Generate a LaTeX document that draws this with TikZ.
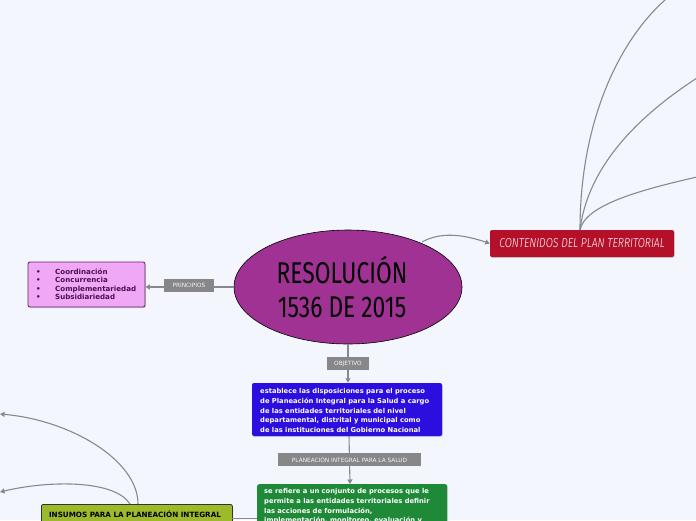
\documentclass[tikz,border=0pt]{standalone}
\usepackage{fontspec}
\setmainfont{DejaVu Sans}
\newfontfamily\handfont{Fira Sans}
\newfontfamily\handfontit{Fira Sans Light Italic}
\usetikzlibrary{arrows.meta,shapes.geometric,shadows}
\definecolor{bg}{RGB}{243,246,253}
\definecolor{conn}{RGB}{135,137,145}
\definecolor{lblgray}{RGB}{135,135,138}
\definecolor{ellfill}{RGB}{159,50,147}
\definecolor{pinkfill}{RGB}{240,168,246}
\definecolor{pinkdraw}{RGB}{100,30,100}
\definecolor{pinktext}{RGB}{75,16,80}
\definecolor{redfill}{RGB}{181,16,42}
\definecolor{bluefill}{RGB}{44,14,222}
\definecolor{greenfill}{RGB}{30,138,56}
\definecolor{olivefill}{RGB}{156,186,42}
\tikzset{
  conn/.style={draw=conn, line width=1.1pt},
  arr/.style={conn, -{Triangle[length=4.5pt,width=5pt]}},
  lbl/.style={fill=lblgray, text=white!92!gray, font=\fontsize{5.8}{6}\selectfont, inner sep=0pt, minimum height=12.5pt},
  topicbox/.style={rounded corners=2pt, inner sep=0pt, drop shadow={shadow xshift=0.8pt, shadow yshift=-1.2pt, opacity=0.3}},
  bodytext/.style={text=white, font=\bfseries\fontsize{6.75}{9.6}\selectfont, align=left}
}
\begin{document}
\begin{tikzpicture}[x=1pt,y=-1pt]
\clip (0,0) rectangle (696,520);
\fill[bg] (0,0) rectangle (696,520);

% central ellipse
\node[ellipse, draw=black, line width=0.6pt, fill=ellfill, minimum width=228pt, minimum height=114pt, inner sep=0pt] (root) at (348,287) {};
\node[text=black, font=\handfont\fontsize{30}{34}\selectfont, align=center] (title) at (342,287) {\scalebox{0.76}[1]{RESOLUCIÓN}\\\scalebox{0.76}[1]{1536 DE 2015}};

% principios
\node[topicbox, draw=pinkdraw, line width=0.8pt, fill=pinkfill, minimum width=117pt, minimum height=45pt] (princ) at (86.5,284.5) {};
\node[anchor=north west, text=pinktext, font=\bfseries\fontsize{7.1}{8.5}\selectfont, align=left, inner sep=0pt] (princtxt) at (36,268.5)
  {\makebox[19pt][l]{•}Coordinación\\\makebox[19pt][l]{•}Concurrencia\\\makebox[19pt][l]{•}Complementariedad\\\makebox[19pt][l]{•}Subsidiariedad};
\draw[arr] (root.west) -- (princ.east |- root.west);
\node[lbl, minimum width=50pt] (lprinc) at (189,285.5) {PRINCIPIOS};

% contenidos
\node[topicbox, fill=redfill, minimum width=184pt, minimum height=27pt] (cont) at (582,243.5) {};
\node[text=white, font=\handfontit\fontsize{13}{14}\selectfont, inner sep=0pt] (conttxt) at (582,243.5) {\scalebox{0.8}[1]{CONTENIDOS DEL PLAN TERRITORIAL}};
\coordinate (e1) at (422,242);
\draw[arr] (e1) .. controls (440,232) and (462,234) .. (cont.west);
\coordinate (cs) at (580,230);
\coordinate (t1) at (665,0);
\coordinate (t2) at (697,78);
\coordinate (t3) at (697,177);
\draw[conn] (cs) .. controls (580,120) and (620,40) .. (t1);
\draw[conn] (cs) .. controls (588,165) and (640,115) .. (t2);
\draw[conn] (cs) .. controls (585,205) and (640,190) .. (t3);

% objetivo
\node[topicbox, fill=bluefill, minimum width=190pt, minimum height=53pt] (obj) at (347,409.5) {};
\node[bodytext, anchor=north west, inner sep=0pt] (objtxt) at (260,388.5)
  {establece las disposiciones para el proceso\\de Planeación Integral para la Salud a cargo\\de las entidades territoriales del nivel\\departamental, distrital y municipal como\\de las instituciones del Gobierno Nacional};
\draw[arr] (root.south) -- (obj.north -| root.south);
\node[lbl, minimum width=42pt] (lobj) at (348,363.5) {OBJETIVO};

% planeacion
\node[topicbox, fill=greenfill, minimum width=190pt, minimum height=70pt, anchor=north west] (plan) at (257,484) {};
\node[bodytext, anchor=north west, inner sep=0pt] (plantxt) at (264,488.5)
  {se refiere a un conjunto de procesos que le\\permite a las entidades territoriales definir\\las acciones de formulación,\\implementación, monitoreo, evaluación y};
\coordinate (ob) at (349,436);
\coordinate (pt) at (350,484);
\draw[arr] (ob) -- (pt);
\node[lbl, minimum width=143pt] (lplan) at (349.5,459.5) {PLANEACIÓN INTEGRAL PARA LA SALUD};

% insumos
\node[topicbox, draw=black!80, line width=0.8pt, fill=olivefill, minimum width=191pt, minimum height=40pt, anchor=north west] (ins) at (41,504) {};
\node[text=black, font=\bfseries\fontsize{7.2}{8}\selectfont, inner sep=0pt] (instxt) at (135,514.5) {INSUMOS PARA LA PLANEACIÓN INTEGRAL};
\coordinate (gl) at (257,518.5);
\coordinate (ir) at (232,518.5);
\draw[conn] (gl) -- (ir);
\coordinate (is1) at (138,504);
\coordinate (is2) at (130,504);
\coordinate (l1) at (0,414);
\coordinate (l2) at (0,492);
\draw[arr] (is1) .. controls (138,460) and (70,420) .. (l1);
\draw[arr] (is2) .. controls (115,480) and (50,480) .. (l2);
\end{tikzpicture}
\end{document}
